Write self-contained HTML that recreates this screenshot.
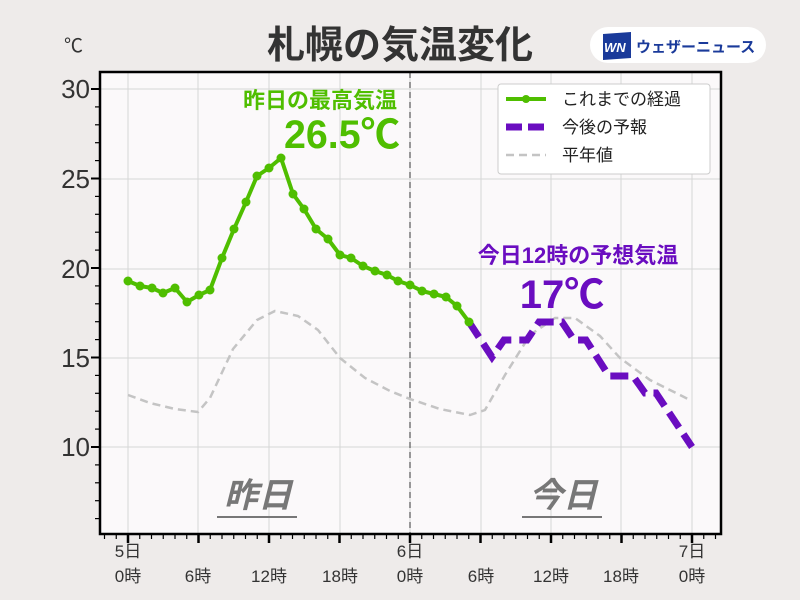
<!DOCTYPE html>
<html><head><meta charset="utf-8"><style>
html,body{margin:0;padding:0;background:#eeebea;}
svg{display:block;font-family:"Liberation Sans","Noto Sans CJK JP",sans-serif;}
</style></head><body>
<svg id="s" width="800" height="600" viewBox="0 0 800 600" xmlns="http://www.w3.org/2000/svg">
<rect width="800" height="600" fill="#eeebea"/>
<rect x="100" y="72" width="621" height="462" fill="#fbf9fa"/>
<g id="grid" stroke="#d6d6d6" stroke-width="1"></g>
<line x1="410" y1="72" x2="410" y2="534" stroke="#777" stroke-width="1.5" stroke-dasharray="6,4"/>
<polyline fill="none" stroke="#c4c4c4" stroke-width="2.5" stroke-dasharray="8,5" points="128,395 150,403 175,409 198,412 210,398 233,349 257,320 275,311 298,316 318,330 340,358 365,378 390,391 410,399 440,409 470,415 485,410 505,375 530,335 555,318 575,318 600,336 620,358 650,380 690,400"/>
<polyline fill="none" stroke="#6a0dc0" stroke-width="7" stroke-dasharray="18,8" points="469,322 492,357 504,340 527,340 539,322 562,322 574,340 586,340 609,376 633,376 645,393 656,393 692,447"/>
<polyline id="obs" fill="none" stroke="#4fbe00" stroke-width="4" stroke-linejoin="round" points="128,281 140,286 152,288 163,293 175,288 187,302 199,295 210,290 222,258 234,229 246,202 257,176 269,168 281,158 293,194 304,209 316,229 328,239 340,255 351,258 363,266 375,271 387,275 398,281 410,285 422,291 434,294 446,297 457,306 469,322"/>
<g id="dots" fill="#4fbe00"></g>
<rect x="100" y="72" width="621" height="462" fill="none" stroke="#000" stroke-width="2.5"/>
<g id="ticks" stroke="#000"></g>
<g font-size="26" fill="#333" text-anchor="end">
<text x="90" y="98">30</text><text x="90" y="188">25</text><text x="90" y="278">20</text><text x="90" y="367">15</text><text x="90" y="456">10</text>
</g>
<text x="64" y="52" font-size="19" fill="#333">℃</text>
<text x="400" y="58" font-size="38" font-weight="bold" fill="#333" text-anchor="middle">札幌の気温変化</text>
<rect x="590" y="27" width="176" height="36" rx="18" fill="#fff"/>
<polygon points="603,34 631,32 631,58 603,60" fill="#1a3a9a"/>
<text x="604" y="52" font-size="13" font-weight="bold" font-style="italic" fill="#fff">WN</text>
<text x="636" y="52" font-size="15" font-weight="bold" fill="#1a3a9a">ウェザーニュース</text>
<g font-size="17" fill="#333" text-anchor="middle">
<text x="128" y="557">5日</text><text x="128" y="582">0時</text>
<text x="198" y="582">6時</text><text x="269" y="582">12時</text><text x="340" y="582">18時</text>
<text x="410" y="557">6日</text><text x="410" y="582">0時</text>
<text x="481" y="582">6時</text><text x="551" y="582">12時</text><text x="621" y="582">18時</text>
<text x="692" y="557">7日</text><text x="692" y="582">0時</text>
</g>
<text x="320" y="108" font-size="22" font-weight="bold" fill="#4fbe00" text-anchor="middle">昨日の最高気温</text>
<text x="400" y="148" font-size="40" font-weight="bold" fill="#4fbe00" text-anchor="end" textLength="116" lengthAdjust="spacingAndGlyphs">26.5℃</text>
<text x="578" y="263" font-size="22" font-weight="bold" fill="#6a0dc0" text-anchor="middle">今日12時の予想気温</text>
<text x="562" y="308" font-size="40" font-weight="bold" fill="#6a0dc0" text-anchor="middle">17℃</text>
<g font-size="34" font-weight="bold" font-style="italic" fill="#777" text-anchor="middle">
<text x="258" y="507">昨日</text><text x="563" y="507">今日</text>
</g>
<rect x="217" y="516" width="80" height="2" fill="#777"/><rect x="522" y="516" width="80" height="2" fill="#777"/>
<rect x="498" y="84" width="212" height="90" rx="3" fill="#fff" stroke="#ccc"/>
<line x1="506" y1="99" x2="546" y2="99" stroke="#4fbe00" stroke-width="4"/><circle cx="526" cy="99" r="4" fill="#4fbe00"/>
<line x1="506" y1="127" x2="546" y2="127" stroke="#6a0dc0" stroke-width="7" stroke-dasharray="16,6"/>
<line x1="506" y1="155" x2="546" y2="155" stroke="#c4c4c4" stroke-width="2.5" stroke-dasharray="8,5"/>
<g font-size="17" fill="#222"><text x="562" y="105">これまでの経過</text><text x="562" y="133">今後の予報</text><text x="562" y="161">平年値</text></g>
</svg>
<script>
var NS="http://www.w3.org/2000/svg";
function el(p,t,a){var e=document.createElementNS(NS,t);for(var k in a)e.setAttribute(k,a[k]);document.getElementById(p).appendChild(e);}
var xs=[128,198,269,340,410,481,551,621,692];
xs.forEach(function(x){el("grid","line",{x1:x,y1:72,x2:x,y2:534});});
[89,179,269,358,447].forEach(function(y){el("grid","line",{x1:100,y1:y,x2:721,y2:y});});
for(var h=-2;h<=50;h++){var x=128+h*11.75;if(x<101||x>720)continue;var maj=(h%6==0);el("ticks","line",{x1:x,y1:534,x2:x,y2:534+(maj?9:5),"stroke-width":maj?2.5:1.2});}
for(var v=5;v<=31;v++){var y=89+(30-v)*17.9;if(y<73||y>533)continue;var maj=(v%5==0);el("ticks","line",{x1:100,y1:y,x2:100-(maj?9:5),y2:y,"stroke-width":maj?2:1.2});}
document.getElementById("obs").getAttribute("points").split(" ").forEach(function(p){var c=p.split(",");el("dots","circle",{cx:c[0],cy:c[1],r:4.5});});
</script>
</body></html>
